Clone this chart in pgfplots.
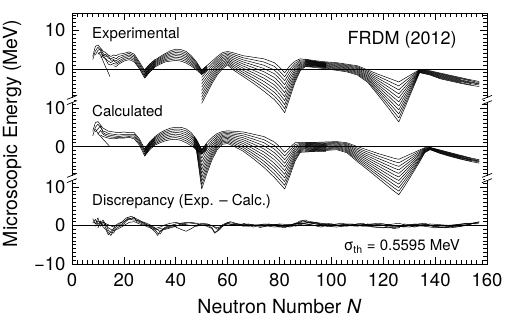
\documentclass[border=0pt]{standalone}
\usepackage{fontspec}
\setmainfont{TeX Gyre Heros}
\usepackage{pgfplots}
\usepackage{pgfplotstable}
\pgfplotsset{compat=1.18}

% ---------------- Experimental (real MeV values) ----------------
\pgfplotstableread{
N a0 a1 a2 a3 a4 a5
8 3.2 2.4 nan nan nan nan
9 5.8 4.6 3.6 nan nan nan
10 6.2 5.6 4.8 3.8 nan nan
11 5.4 4.8 5.2 4.4 3.0 nan
12 4.6 3.4 4.0 3.0 3.6 nan
13 4.2 3.8 3.2 2.6 2.4 nan
14 3.6 2.8 3.4 2.0 1.2 nan
15 3.2 2.6 2.2 1.6 1.0 nan
16 3.6 3.0 2.4 2.2 1.4 0.8
17 3.4 2.6 2.0 1.6 1.2 0.6
18 3.8 3.2 2.6 2.0 1.6 1.2
20 4.0 3.6 3.2 2.8 2.4 2.0
22 4.4 4.0 3.6 3.2 2.8 2.4
24 3.8 3.4 3.0 2.6 2.2 1.8
26 1.8 1.4 1.0 0.6 0.2 0.0
28 -0.4 -0.8 -1.2 -1.6 -2.0 -2.4
30 1.2 0.8 0.4 0.0 -0.4 -0.8
32 2.4 2.0 1.6 1.2 0.8 0.4
}\ExpA

\pgfplotstableread{
N b0 b1 b2 b3 b4 b5 b6 b7
28 -0.2 -0.51 -0.83 -1.14 -1.46 -1.77 -2.09 -2.4
30 1.2 0.91 0.63 0.34 0.06 -0.23 -0.51 -0.8
32 2.3 2.04 1.79 1.53 1.27 1.01 0.76 0.5
34 3.2 2.91 2.63 2.34 2.06 1.77 1.49 1.2
36 4.0 3.69 3.37 3.06 2.74 2.43 2.11 1.8
38 4.7 4.31 3.93 3.54 3.16 2.77 2.39 2.0
40 5.1 4.69 4.27 3.86 3.44 3.03 2.61 2.2
42 5.0 4.57 4.14 3.71 3.29 2.86 2.43 2.0
44 4.5 4.07 3.64 3.21 2.79 2.36 1.93 1.5
46 3.4 3.01 2.63 2.24 1.86 1.47 1.09 0.7
48 1.8 1.5 1.2 0.9 0.6 0.3 0.0 -0.3
50 -0.3 -0.47 -0.64 -0.81 -0.99 -1.16 -1.33 -1.5
52 0.8 0.61 0.43 0.24 0.06 -0.13 -0.31 -0.5
}\ExpB

\pgfplotstableread{
N c0 c1 c2 c3 c4 c5 c6 c7 c8 c9 c10
50 -0.5 -1.35 -2.2 -3.05 -3.9 -4.75 -5.6 -6.45 -7.3 -8.15 -9.0
52 0.8 0.08 -0.64 -1.36 -2.08 -2.8 -3.52 -4.24 -4.96 -5.68 -6.4
54 2.0 1.42 0.84 0.26 -0.32 -0.9 -1.48 -2.06 -2.64 -3.22 -3.8
56 3.2 2.72 2.24 1.76 1.28 0.8 0.32 -0.16 -0.64 -1.12 -1.6
58 4.2 3.78 3.36 2.94 2.52 2.1 1.68 1.26 0.84 0.42 0.0
60 4.5 4.15 3.8 3.45 3.1 2.75 2.4 2.05 1.7 1.35 1.0
62 4.2 3.76 3.32 2.88 2.44 2.0 1.56 1.12 0.68 0.24 -0.2
66 3.4 2.86 2.32 1.78 1.24 0.7 0.16 -0.38 -0.92 -1.46 -2.0
70 3.0 2.32 1.64 0.96 0.28 -0.4 -1.08 -1.76 -2.44 -3.12 -3.8
74 2.6 1.76 0.92 0.08 -0.76 -1.6 -2.44 -3.28 -4.12 -4.96 -5.8
78 1.6 0.64 -0.32 -1.28 -2.24 -3.2 -4.16 -5.12 -6.08 -7.04 -8.0
80 0.4 -0.59 -1.58 -2.57 -3.56 -4.55 -5.54 -6.53 -7.52 -8.51 -9.5
82 -1.0 -2.04 -3.08 -4.12 -5.16 -6.2 -7.24 -8.28 -9.32 -10.36 -11.4
84 0.8 -0.03 -0.86 -1.69 -2.52 -3.35 -4.18 -5.01 -5.84 -6.67 -7.5
86 2.0 1.45 0.9 0.35 -0.2 -0.75 -1.3 -1.85 -2.4 -2.95 -3.5
88 2.6 2.29 1.98 1.67 1.36 1.05 0.74 0.43 0.12 -0.19 -0.5
90 2.4 2.22 2.04 1.86 1.68 1.5 1.32 1.14 0.96 0.78 0.6
94 1.9 1.78 1.66 1.54 1.42 1.3 1.18 1.06 0.94 0.82 0.7
98 1.5 1.38 1.26 1.14 1.02 0.9 0.78 0.66 0.54 0.42 0.3
}\ExpC

\pgfplotstableread{
N d0 d1 d2 d3 d4 d5 d6 d7 d8 d9 d10
90 2.5 2.31 2.12 1.93 1.74 1.55 1.36 1.17 0.98 0.79 0.6
94 2.1 1.92 1.74 1.56 1.38 1.2 1.02 0.84 0.66 0.48 0.3
98 1.8 1.62 1.44 1.26 1.08 0.9 0.72 0.54 0.36 0.18 0.0
102 1.6 1.4 1.2 1.0 0.8 0.6 0.4 0.2 0.0 -0.2 -0.4
106 1.2 1.0 0.8 0.6 0.4 0.2 0.0 -0.2 -0.4 -0.6 -0.8
110 0.8 0.56 0.32 0.08 -0.16 -0.4 -0.64 -0.88 -1.12 -1.36 -1.6
114 -0.3 -0.62 -0.94 -1.26 -1.58 -1.9 -2.22 -2.54 -2.86 -3.18 -3.5
118 -1.4 -1.94 -2.48 -3.02 -3.56 -4.1 -4.64 -5.18 -5.72 -6.26 -6.8
122 -2.4 -3.18 -3.96 -4.74 -5.52 -6.3 -7.08 -7.86 -8.64 -9.42 -10.2
124 -2.9 -3.81 -4.72 -5.63 -6.54 -7.45 -8.36 -9.27 -10.18 -11.09 -12.0
126 -3.4 -4.44 -5.48 -6.52 -7.56 -8.6 -9.64 -10.68 -11.72 -12.76 -13.8
128 -2.6 -3.4 -4.2 -5.0 -5.8 -6.6 -7.4 -8.2 -9.0 -9.8 -10.6
130 -1.8 -2.36 -2.92 -3.48 -4.04 -4.6 -5.16 -5.72 -6.28 -6.84 -7.4
132 -1.0 -1.32 -1.64 -1.96 -2.28 -2.6 -2.92 -3.24 -3.56 -3.88 -4.2
134 -0.2 -0.28 -0.36 -0.44 -0.52 -0.6 -0.68 -0.76 -0.84 -0.92 -1.0
138 -0.5 -0.61 -0.72 -0.83 -0.94 -1.05 -1.16 -1.27 -1.38 -1.49 -1.6
142 -1.1 -1.25 -1.4 -1.55 -1.7 -1.85 -2.0 -2.15 -2.3 -2.45 -2.6
146 -1.7 -1.85 -2.0 -2.15 -2.3 -2.45 -2.6 -2.75 -2.9 -3.05 -3.2
150 -2.3 -2.45 -2.6 -2.75 -2.9 -3.05 -3.2 -3.35 -3.5 -3.65 -3.8
154 -2.9 -3.04 -3.18 nan -3.46 -3.6 -3.74 -3.88 nan -4.16 -4.3
157 -3.3 nan -3.56 nan -3.82 -3.95 nan -4.21 nan nan -4.6
}\ExpD

% ---------------- Calculated (real MeV values) ----------------
\pgfplotstableread{
N ma0 ma1 ma2 ma3 ma4
8 4.0 2.8 nan nan nan
9 6.2 5.0 3.8 nan nan
10 6.5 5.8 4.6 3.2 nan
11 5.6 5.0 5.4 4.2 3.0
12 4.8 4.0 3.6 3.2 2.6
13 4.4 3.8 3.2 2.8 2.4
14 4.0 3.4 3.0 2.6 2.2
16 3.8 3.2 2.8 2.4 2.0
18 3.6 3.0 2.6 2.4 2.2
20 3.8 3.2 2.8 2.4 2.2
22 3.6 3.2 2.8 2.6 2.4
24 3.6 3.2 2.8 2.4 2.0
26 2.0 1.6 1.2 0.8 0.4
28 -0.6 -1.0 -1.4 -1.9 -2.4
30 1.2 0.8 0.4 0.0 -0.4
32 2.4 2.0 1.6 1.2 0.8
}\CalA

\pgfplotstableread{
N mb0 mb1 mb2 mb3 mb4 mb5 mb6 mb7
28 -0.6 -0.87 -1.14 -1.41 -1.69 -1.96 -2.23 -2.5
30 1.2 0.91 0.63 0.34 0.06 -0.23 -0.51 -0.8
32 2.6 2.29 1.97 1.66 1.34 1.03 0.71 0.4
34 3.6 3.23 2.86 2.49 2.11 1.74 1.37 1.0
36 4.3 3.9 3.5 3.1 2.7 2.3 1.9 1.5
38 4.8 4.37 3.94 3.51 3.09 2.66 2.23 1.8
40 5.0 4.56 4.11 3.67 3.23 2.79 2.34 1.9
42 5.0 4.51 4.03 3.54 3.06 2.57 2.09 1.6
44 4.6 4.09 3.57 3.06 2.54 2.03 1.51 1.0
46 3.6 3.11 2.63 2.14 1.66 1.17 0.69 0.2
48 1.8 1.43 1.06 0.69 0.31 -0.06 -0.43 -0.8
50 -0.7 -0.89 -1.07 -1.26 -1.44 -1.63 -1.81 -2.0
52 0.8 0.57 0.34 0.11 -0.11 -0.34 -0.57 -0.8
}\CalB

\pgfplotstableread{
N mc0 mc1 mc2 mc3 mc4 mc5 mc6 mc7 mc8 mc9 mc10
47 2.7 2.43 2.16 1.89 1.62 1.35 1.08 0.81 0.54 0.27 0.0
48 1.8 1.52 1.24 0.96 0.68 0.4 0.12 -0.16 -0.44 -0.72 -1.0
50 -1.0 -2.0 -3.0 -4.0 -5.0 -6.0 -7.0 -8.0 -9.0 -10.0 -11.0
52 1.0 0.2 -0.6 -1.4 -2.2 -3.0 -3.8 -4.6 -5.4 -6.2 -7.0
54 2.4 1.82 1.24 0.66 0.08 -0.5 -1.08 -1.66 -2.24 -2.82 -3.4
56 3.4 2.98 2.56 2.14 1.72 1.3 0.88 0.46 0.04 -0.38 -0.8
58 3.9 3.57 3.24 2.91 2.58 2.25 1.92 1.59 1.26 0.93 0.6
60 4.1 3.77 3.44 3.11 2.78 2.45 2.12 1.79 1.46 1.13 0.8
62 4.0 3.62 3.24 2.86 2.48 2.1 1.72 1.34 0.96 0.58 0.2
66 3.8 3.3 2.8 2.3 1.8 1.3 0.8 0.3 -0.2 -0.7 -1.2
70 3.2 2.56 1.92 1.28 0.64 0.0 -0.64 -1.28 -1.92 -2.56 -3.2
74 2.6 1.8 1.0 0.2 -0.6 -1.4 -2.2 -3.0 -3.8 -4.6 -5.4
78 1.2 0.28 -0.64 -1.56 -2.48 -3.4 -4.32 -5.24 -6.16 -7.08 -8.0
80 0.0 -0.95 -1.9 -2.85 -3.8 -4.75 -5.7 -6.65 -7.6 -8.55 -9.5
82 -1.5 -2.45 -3.4 -4.35 -5.3 -6.25 -7.2 -8.15 -9.1 -10.05 -11.0
84 -0.2 -0.94 -1.68 -2.42 -3.16 -3.9 -4.64 -5.38 -6.12 -6.86 -7.6
86 1.0 0.52 0.04 -0.44 -0.92 -1.4 -1.88 -2.36 -2.84 -3.32 -3.8
88 1.1 0.84 0.58 0.32 0.06 -0.2 -0.46 -0.72 -0.98 -1.24 -1.5
90 1.0 0.76 0.52 0.28 0.04 -0.2 -0.44 -0.68 -0.92 -1.16 -1.4
94 1.0 0.78 0.56 0.34 0.12 -0.1 -0.32 -0.54 -0.76 -0.98 -1.2
98 0.9 0.68 0.46 0.24 0.02 -0.2 -0.42 -0.64 -0.86 -1.08 -1.3
}\CalC

\pgfplotstableread{
N md0 md1 md2 md3 md4 md5 md6 md7 md8 md9 md10
90 1.0 0.76 0.52 0.28 0.04 -0.2 -0.44 -0.68 -0.92 -1.16 -1.4
94 1.1 0.87 0.64 0.41 0.18 -0.05 -0.28 -0.51 -0.74 -0.97 -1.2
98 1.2 0.98 0.76 0.54 0.32 0.1 -0.12 -0.34 -0.56 -0.78 -1.0
102 1.3 1.09 0.88 0.67 0.46 0.25 0.04 -0.17 -0.38 -0.59 -0.8
106 1.0 0.74 0.48 0.22 -0.04 -0.3 -0.56 -0.82 -1.08 -1.34 -1.6
110 0.0 -0.39 -0.78 -1.17 -1.56 -1.95 -2.34 -2.73 -3.12 -3.51 -3.9
114 -0.9 -1.41 -1.92 -2.43 -2.94 -3.45 -3.96 -4.47 -4.98 -5.49 -6.0
118 -1.8 -2.44 -3.08 -3.72 -4.36 -5.0 -5.64 -6.28 -6.92 -7.56 -8.2
122 -2.6 -3.38 -4.16 -4.94 -5.72 -6.5 -7.28 -8.06 -8.84 -9.62 -10.4
124 -3.0 -3.85 -4.7 -5.55 -6.4 -7.25 -8.1 -8.95 -9.8 -10.65 -11.5
126 -3.3 -4.22 -5.14 -6.06 -6.98 -7.9 -8.82 -9.74 -10.66 -11.58 -12.5
128 -2.7 -3.48 -4.26 -5.04 -5.82 -6.6 -7.38 -8.16 -8.94 -9.72 -10.5
130 -2.1 -2.73 -3.36 -3.99 -4.62 -5.25 -5.88 -6.51 -7.14 -7.77 -8.4
132 -1.5 -1.97 -2.44 -2.91 -3.38 -3.85 -4.32 -4.79 -5.26 -5.73 -6.2
134 -0.9 -1.21 -1.52 -1.83 -2.14 -2.45 -2.76 -3.07 -3.38 -3.69 -4.0
136 -0.3 -0.43 -0.56 -0.69 -0.82 -0.95 -1.08 -1.21 -1.34 -1.47 -1.6
138 -0.2 -0.26 -0.32 -0.38 -0.44 -0.5 -0.56 -0.62 -0.68 -0.74 -0.8
142 -0.9 -0.99 -1.08 -1.17 -1.26 -1.35 -1.44 -1.53 -1.62 -1.71 -1.8
146 -1.6 -1.7 -1.8 -1.9 -2.0 -2.1 -2.2 -2.3 -2.4 -2.5 -2.6
150 -2.3 -2.4 -2.5 -2.6 -2.7 -2.8 -2.9 -3.0 -3.1 -3.2 -3.3
154 -3.0 -3.09 -3.18 nan -3.36 -3.45 -3.54 -3.63 nan -3.81 -3.9
157 -3.4 nan -3.58 nan -3.76 -3.85 nan -4.03 nan nan -4.3
}\CalD

\pgfplotsset{crv/.style={black, line width=0.5pt, mark=none, line join=round}}
\newcommand{\offT}{40.7}
\newcommand{\offM}{20.5}

\begin{document}
\begin{tikzpicture}
\useasboundingbox (-72pt,-56pt) rectangle (434pt,264pt);
\begin{axis}[
  at={(0pt,0pt)}, anchor=south west,
  scale only axis, width=415pt, height=251pt,
  xmin=0, xmax=160, ymin=-10, ymax=55.2,
  clip=false, unbounded coords=jump,
  axis line style={line width=0.8pt},
  tick align=inside, tick pos=both,
  xtick={0,20,...,160}, minor x tick num=9,
  ytick={-10,0,10,20.5,30.5,40.7,50.7},
  yticklabels={−10,0,10,0,10,0,10},
  minor ytick={-9,-8,-7,-6,-5,-4,-3,-2,-1,1,2,3,4,5,6,7,8,9,11,12,
    13.5,14.5,15.5,16.5,17.5,18.5,19.5,21.5,22.5,23.5,24.5,25.5,26.5,27.5,28.5,29.5,31.5,32.5,
    33.7,34.7,35.7,36.7,37.7,38.7,39.7,41.7,42.7,43.7,44.7,45.7,46.7,47.7,48.7,49.7,51.7,52.7,53.7,54.7},
  major tick length=7pt, minor tick length=4pt,
  every tick/.style={black, line width=0.6pt},
  /pgf/number format/assume math mode=true,
  tick label style={font=\fontsize{18.5}{20}\selectfont},
  xticklabel style={yshift=-6pt},
  yticklabel style={xshift=-3pt},
  xlabel={Neutron Number \textit{N}},
  ylabel={Microscopic Energy (MeV)},
  label style={font=\fontsize{19.5}{21}\selectfont},
  xlabel style={at={(axis description cs:0.5,0)}, anchor=base, yshift=-50pt},
  ylabel style={at={(axis description cs:-0.1325,0.52)}, anchor=base},
]
% zero lines
\addplot[black, line width=0.6pt] coordinates {(0,0) (160,0)};
\addplot[black, line width=0.6pt] table[x=N, y expr=\thisrow{v}+\offM, row sep=\\] {N v\\ 0 0\\ 160 0\\};
\addplot[black, line width=0.6pt] table[x=N, y expr=\thisrow{v}+\offT, row sep=\\] {N v\\ 0 0\\ 160 0\\};

% Experimental
\pgfplotsinvokeforeach{0,...,5}{\addplot[crv] table[x=N, y expr=\thisrow{a#1}+\offT]{\ExpA};}
\addplot[crv] table[x=N, y expr=\thisrow{v}+\offT, row sep=\\] {N v\\ 10 4.2\\ 11 3.6\\ 12 2.0\\ 13 0.4\\ 14 -1.0\\ 14.6 -2.0\\};
\pgfplotsinvokeforeach{0,...,7}{\addplot[crv] table[x=N, y expr=\thisrow{b#1}+\offT]{\ExpB};}
\pgfplotsinvokeforeach{0,...,10}{\addplot[crv] table[x=N, y expr=\thisrow{c#1}+\offT]{\ExpC};}
\pgfplotsinvokeforeach{0,...,10}{\addplot[crv] table[x=N, y expr=\thisrow{d#1}+\offT]{\ExpD};}

% Calculated
\pgfplotsinvokeforeach{0,...,4}{\addplot[crv] table[x=N, y expr=\thisrow{ma#1}+\offM]{\CalA};}
\addplot[crv] table[x=N, y expr=\thisrow{v}+\offM, row sep=\\] {N v\\ 9 4.6\\ 10 3.4\\ 12 1.9\\ 14.6 0.0\\};
\pgfplotsinvokeforeach{0,...,7}{\addplot[crv] table[x=N, y expr=\thisrow{mb#1}+\offM]{\CalB};}
\pgfplotsinvokeforeach{0,...,10}{\addplot[crv] table[x=N, y expr=\thisrow{mc#1}+\offM]{\CalC};}
\pgfplotsinvokeforeach{0,...,10}{\addplot[crv] table[x=N, y expr=\thisrow{md#1}+\offM]{\CalD};}

% Discrepancy
\addplot[crv] coordinates {(8,1.8)(9,0.4)(10,2.0)(11,-0.2)(12,1.0)(13,-0.6)(14,-1.8)(15,-2.6)(16,-1.2)(17,-0.4)(18,0.2)(19,0.8)(20,1.4)(21,2.0)(22,2.2)(23,2.4)(24,1.8)(25,1.4)(26,1.0)(28,0.6)(30,-0.4)(32,-1.6)(33,-2.6)(34,-1.4)(36,-0.6)(38,-0.2)(40,0.2)};
\addplot[crv] coordinates {(8,0.6)(9,1.6)(10,0.2)(11,1.2)(12,-0.4)(13,-1.0)(14,-2.4)(15,-1.6)(16,-0.8)(17,0.2)(18,-0.2)(20,0.8)(21,1.6)(22,2.0)(23,1.6)(24,2.2)(25,1.0)(26,0.8)(28,0.2)(30,-0.2)(32,-1.0)(33,-2.0)(34,-2.2)(35,-1.2)(36,-0.8)(38,-0.4)(40,-0.2)(42,0.2)(44,0.4)};
\addplot[crv] coordinates {(9,-0.2)(10,1.2)(11,0.8)(12,0.0)(13,0.4)(14,-1.2)(15,-1.8)(16,-2.0)(17,-0.8)(18,-0.4)(20,0.4)(21,1.2)(22,1.6)(24,1.4)(26,1.2)(28,0.8)(30,0.2)(32,-0.6)(34,-1.6)(36,-0.4)(38,0.0)(40,0.4)(42,0.6)(44,0.8)(46,0.6)(48,0.4)(50,0.0)(52,0.2)(54,-0.6)(55,-1.8)(56,-1.4)(58,0.2)(60,0.8)(62,0.6)(66,0.2)};
\addplot[crv] coordinates {(10,-0.6)(11,0.6)(12,1.4)(13,0.2)(14,-0.6)(15,-1.0)(16,-1.4)(18,-0.8)(20,0.0)(22,0.8)(24,1.0)(26,0.4)(28,0.0)(30,-0.6)(32,-1.2)(34,-0.8)(36,-1.0)(38,-0.6)(40,-0.2)(42,0.4)(44,0.6)(46,0.8)(48,0.6)(50,0.2)(52,-0.2)(54,-0.8)(55,-2.0)(57,-1.0)(59,0.4)(61,1.0)(63,0.6)(66,-0.2)(70,0.0)(74,-0.2)(78,0.2)(82,0.0)(86,0.4)(89,1.2)(92,0.6)(96,0.2)};
\addplot[crv] coordinates {(12,0.8)(14,0.2)(16,-0.4)(18,0.6)(20,1.0)(22,1.8)(24,2.0)(26,1.4)(28,0.4)(30,0.0)(32,-0.8)(34,-0.4)(36,0.2)(38,0.6)(40,0.8)(44,0.2)(48,-0.2)(52,0.4)(56,-0.6)(60,0.4)(64,0.0)(68,0.4)(72,-0.2)(76,0.2)(80,0.2)(84,-0.4)(88,0.4)(92,1.0)(96,0.6)(100,-0.2)(104,0.2)(108,0.4)(112,-0.2)(116,0.0)(120,0.4)(124,0.0)(128,-0.4)(132,0.4)(136,0.0)(140,-0.2)(144,0.0)(148,0.2)(152,0.4)(157,0.6)};
\addplot[crv] coordinates {(40,-0.4)(42,-1.0)(44,-1.5)(46,-0.8)(48,0.0)(50,0.6)(52,0.4)(54,0.0)(56,-1.0)(58,-0.2)(60,0.6)(62,0.2)(66,0.4)(70,0.2)(74,0.0)(78,-0.4)(82,-0.2)(86,0.2)(88,0.8)(90,1.0)(94,0.4)(98,0.2)(102,0.0)(106,0.4)(110,0.2)(114,-0.2)(118,-0.4)(122,-0.6)(126,-0.4)(130,0.2)(134,0.4)(138,0.0)(142,-0.4)(146,-0.6)(150,-0.2)(154,0.4)(157,1.0)};
\addplot[crv] coordinates {(60,0.0)(64,0.4)(68,-0.2)(72,0.2)(76,0.4)(80,-0.4)(84,-0.2)(88,1.2)(90,1.4)(92,0.8)(96,0.4)(100,0.2)(104,0.6)(108,0.0)(112,0.2)(116,0.4)(120,0.0)(124,-0.8)(126,-0.6)(128,0.4)(132,0.0)(136,-0.2)(140,-0.6)(144,-0.4)(148,-0.2)(152,0.2)(156,0.8)};
\addplot[crv] coordinates {(66,0.6)(70,-0.4)(74,0.4)(78,0.0)(82,-0.6)(84,0.0)(86,0.6)(90,0.4)(94,0.0)(98,0.6)(102,0.2)(106,-0.2)(110,0.4)(114,0.2)(118,0.6)(122,0.2)(126,0.6)(128,0.2)(132,-0.4)(136,0.2)(140,0.0)(144,-0.2)(148,-0.4)(152,0.0)(155,0.6)};
\addplot[crv] coordinates {(72,-0.6)(76,0.0)(80,0.4)(84,0.2)(88,0.6)(92,0.2)(96,-0.4)(100,0.4)(104,-0.2)(108,0.2)(112,0.6)(116,-0.4)(120,-0.6)(124,-0.2)(128,-0.2)(132,0.2)(136,0.6)(140,-0.4)(144,-0.6)(148,0.0)(152,0.6)(156,0.4)};
\addplot[crv] coordinates {(86,-0.2)(90,0.6)(94,0.8)(98,-0.2)(102,-0.4)(106,0.0)(110,-0.2)(114,0.4)(118,0.0)(122,0.2)(126,-0.2)(130,-0.4)(134,0.0)(138,0.4)(142,0.2)(146,0.0)(150,0.4)(154,0.6)(157,0.8)};

% texts
\node[anchor=base west, font=\fontsize{15}{17}\selectfont, inner sep=0pt] at (axis cs:7.7,48.6) {Experimental};
\node[anchor=base east, font=\fontsize{18}{20}\selectfont, inner sep=0pt] at (axis cs:148.4,47.1) {FRDM (2012)};
\node[anchor=base west, font=\fontsize{15}{17}\selectfont, inner sep=0pt] at (axis cs:7.7,28.4) {Calculated};
\node[anchor=base west, font=\fontsize{15}{17}\selectfont, inner sep=0pt] at (axis cs:7.7,5.3) {Discrepancy (Exp. – Calc.)};
\node[anchor=base east, font=\fontsize{15}{17}\selectfont, inner sep=0pt] at (axis cs:149.6,-6.55) {σ\textsubscript{th} = 0.5595 MeV};

\coordinate (bl1) at (axis cs:0,32.6);
\coordinate (bl2) at (axis cs:0,12.34);
\coordinate (br1) at (axis cs:160,32.6);
\coordinate (br2) at (axis cs:160,12.34);
\end{axis}
\foreach \P in {bl1,bl2,br1,br2}{
  \fill[white] ([xshift=-2pt,yshift=-1.6pt]\P) rectangle ([xshift=2pt,yshift=1.6pt]\P);
  \draw[line width=0.7pt] ([xshift=-5pt,yshift=-4.6pt]\P) -- ([xshift=5pt,yshift=-0.6pt]\P);
  \draw[line width=0.7pt] ([xshift=-5pt,yshift=0.6pt]\P) -- ([xshift=5pt,yshift=4.6pt]\P);
}
\end{tikzpicture}
\end{document}
